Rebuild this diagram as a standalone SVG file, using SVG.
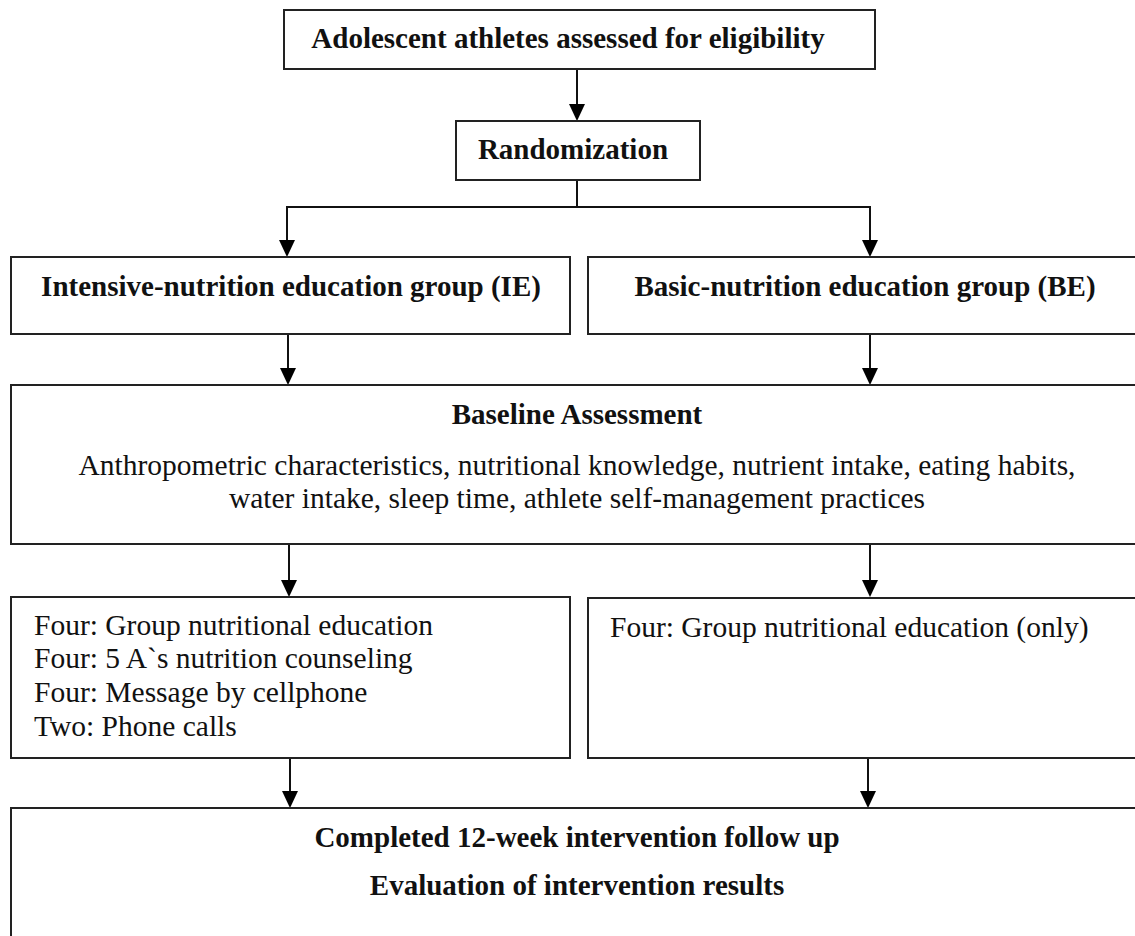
<svg xmlns="http://www.w3.org/2000/svg" width="1135" height="936" viewBox="0 0 1135 936">
<defs>
<style>
.box{fill:#fff;stroke:#222;stroke-width:2}
.b{font-family:"Liberation Serif","Times New Roman",serif;font-weight:bold;font-size:29px;fill:#111}
.r{font-family:"Liberation Serif","Times New Roman",serif;font-size:29.5px;fill:#111}
.c{stroke:#111;stroke-width:2;fill:none}
</style>
</defs>
<rect width="1135" height="936" fill="#fff"/>
<g id="connectors">
<line class="c" x1="577" y1="69" x2="577" y2="110"/>
<path class="c" d="M577,180 V207 H287 V246"/>
<path class="c" d="M577,207 H870 V246"/>
<line class="c" x1="288" y1="334" x2="288" y2="374"/>
<line class="c" x1="870" y1="334" x2="870" y2="374"/>
<line class="c" x1="289" y1="544" x2="289" y2="586"/>
<line class="c" x1="870" y1="544" x2="870" y2="586"/>
<line class="c" x1="290" y1="758" x2="290" y2="797"/>
<line class="c" x1="868" y1="758" x2="868" y2="797"/>
<g fill="#000">
<path d="M569,104 L585,104 L577,121 Z"/>
<path d="M279,240 L295,240 L287,257 Z"/>
<path d="M862,240 L878,240 L870,257 Z"/>
<path d="M280,368 L296,368 L288,385 Z"/>
<path d="M862,368 L878,368 L870,385 Z"/>
<path d="M281,580 L297,580 L289,597 Z"/>
<path d="M862,580 L878,580 L870,597 Z"/>
<path d="M282,791 L298,791 L290,808 Z"/>
<path d="M860,791 L876,791 L868,808 Z"/>
</g>
</g>
<g id="n_eligibility">
<rect class="box" x="284" y="10" width="591" height="59"/>
<text class="b" x="568" y="48" text-anchor="middle">Adolescent athletes assessed for eligibility</text>
</g>
<g id="n_random">
<rect class="box" x="456" y="121" width="244" height="59"/>
<text class="b" x="573" y="159" text-anchor="middle">Randomization</text>
</g>
<g id="n_ie">
<rect class="box" x="11" y="257" width="559" height="77"/>
<text class="b" x="291" y="296" text-anchor="middle">Intensive-nutrition education group (IE)</text>
</g>
<g id="n_be">
<rect class="box" x="588" y="257" width="560" height="77"/>
<text class="b" x="865" y="296" text-anchor="middle">Basic-nutrition education group (BE)</text>
</g>
<g id="n_baseline">
<rect class="box" x="11" y="385" width="1140" height="159"/>
<text class="b" x="577" y="424" text-anchor="middle">Baseline Assessment</text>
<text class="r" x="577" y="475" text-anchor="middle">Anthropometric characteristics, nutritional knowledge, nutrient intake, eating habits,</text>
<text class="r" x="577" y="508" text-anchor="middle">water intake, sleep time, athlete self-management practices</text>
</g>
<g id="n_ie_int">
<rect class="box" x="11" y="597" width="559" height="161"/>
<text class="r" x="34" y="635">Four: Group nutritional education</text>
<text class="r" x="34" y="668">Four: 5 A`s nutrition counseling</text>
<text class="r" x="34" y="702">Four: Message by cellphone</text>
<text class="r" x="34" y="736">Two: Phone calls</text>
</g>
<g id="n_be_int">
<rect class="box" x="588" y="598" width="560" height="160"/>
<text class="r" x="610" y="637">Four: Group nutritional education (only)</text>
</g>
<g id="n_final">
<rect class="box" x="11" y="808" width="1140" height="140"/>
<text class="b" x="577" y="847" text-anchor="middle">Completed 12-week intervention follow up</text>
<text class="b" x="577" y="895" text-anchor="middle">Evaluation of intervention results</text>
</g>
</svg>
